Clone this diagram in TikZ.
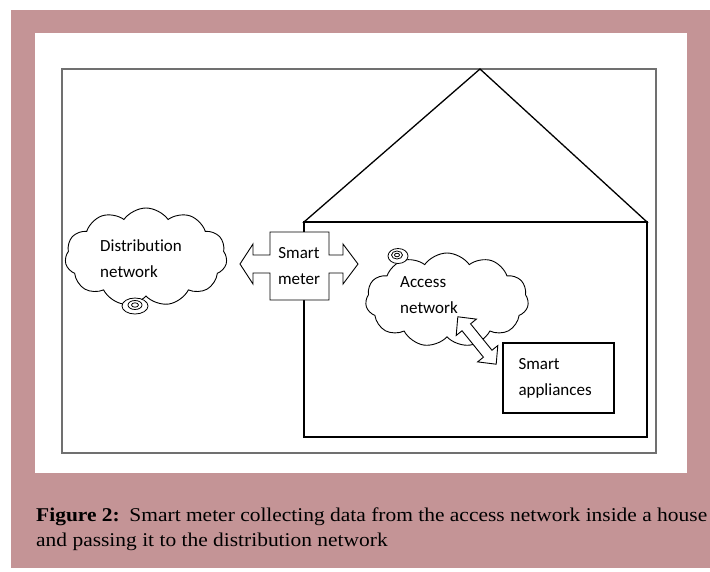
\documentclass[tikz,border=0pt]{standalone}
\usepackage{fontspec}
\setmainfont{Liberation Serif}
\newfontfamily\calibri[Ligatures=NoCommon]{Carlito}
\usetikzlibrary{shapes.symbols}
\definecolor{rose}{RGB}{196,148,150}
\definecolor{framegray}{RGB}{112,112,112}

\tikzset{
  wordtext/.style={font=\calibri\fontsize{17}{26}\selectfont, align=left, inner sep=0},
  puff/.style={cloud, draw, cloud puffs=11, cloud puff arc=110, aspect=1.8, inner sep=0, fill=white, line width=0.9},
  blockarrow/.style={draw, fill=white, line width=0.9}
}

\begin{document}
\begin{tikzpicture}[x=1pt, y=-1pt]
\useasboundingbox (0,0) rectangle (710,571);

\fill[rose] (11,10) rectangle (710,568);
\fill[white] (35,33) rectangle (687,473);

\draw[framegray, line width=2] (62,69) rectangle (656,453);

% house
\draw[line width=1.3] (304,222) -- (480,69) -- (647,222) -- cycle;
\draw[line width=1.3] (304,222) rectangle (647,437);

% clouds
\node (distnet) at (146,257) [puff, minimum width=162, minimum height=98] {};
\draw[fill=white, line width=0.8] (135,306) ellipse [x radius=13, y radius=8];
\draw[line width=0.8] (135,305) ellipse [x radius=7, y radius=4.5];
\draw[line width=0.8] (135,305) ellipse [x radius=3.5, y radius=2.2];
\node (disttext) at (100,259) [wordtext, anchor=west] {Distribution\\network};

\node (accnet) at (447,300) [puff, minimum width=163, minimum height=94] {};
\draw[fill=white, line width=0.8] (398,256) ellipse [x radius=10, y radius=7.5];
\draw[line width=0.8] (397,255) ellipse [x radius=5.5, y radius=4];
\draw[line width=0.8] (397,255) ellipse [x radius=2.5, y radius=1.8];
\node (acctext) at (400,295) [wordtext, anchor=west] {Access\\network};

% smart meter
\draw[blockarrow] (270,232) -- (329,232) -- (329,255) -- (343,255) -- (343,244) -- (358,264)
  -- (343,284) -- (343,273) -- (329,273) -- (329,300) -- (270,300) -- (270,273) -- (253,273)
  -- (253,284) -- (240,264) -- (253,244) -- (253,255) -- (270,255) -- cycle;
\node (meter) at (299,266) [wordtext, align=center] {Smart\\meter};

% appliances
\node (appl) at (558.5,378) [draw, line width=1.3, wordtext, minimum width=111, minimum height=70,
  text width=80, inner xsep=15.5] {Smart\\appliances};

\begin{scope}[shift={(477,340.5)}, rotate=-51]
\draw[blockarrow] (-30.5,0) -- (-17,13) -- (-17,5.5) -- (17,5.5) -- (17,13) -- (30.5,0)
  -- (17,-13) -- (17,-5.5) -- (-17,-5.5) -- (-17,-13) -- cycle;
\end{scope}

\node (caption) at (36,508) [anchor=north west, align=left, inner sep=0, transform shape, xscale=1.1,
  font=\fontsize{19.5}{25}\selectfont]
  {\textbf{Figure 2:}\hspace{0.45em}Smart meter collecting data from the access network inside a house\\and passing it to the distribution network};

\end{tikzpicture}
\end{document}
